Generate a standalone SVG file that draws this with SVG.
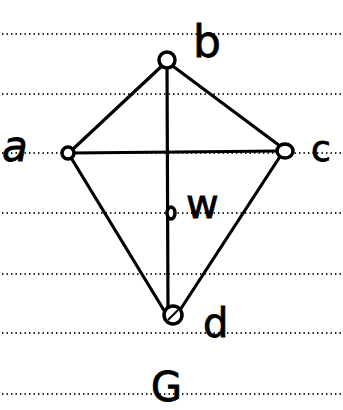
<svg xmlns="http://www.w3.org/2000/svg" width="343" height="410" viewBox="0 0 343 410">
<style>
.rule{stroke:#222;stroke-width:2.2;stroke-dasharray:1.4 3.1;fill:none}
.edge{stroke:#000;stroke-width:3.2;fill:none;stroke-linecap:round}
.node{fill:#fff;stroke:#000;stroke-width:3.5}
.lbl{font-family:"DejaVu Sans",sans-serif;fill:#000;stroke:#000;stroke-width:0.8}
</style>
<rect width="343" height="410" fill="#fff"/>
<g id="paper">
<line class="rule" x1="2" y1="34" x2="343" y2="34"/>
<line class="rule" x1="2" y1="94" x2="343" y2="94"/>
<line class="rule" x1="2" y1="153" x2="343" y2="153"/>
<line class="rule" x1="2" y1="213" x2="343" y2="213"/>
<line class="rule" x1="2" y1="274" x2="343" y2="274"/>
<line class="rule" x1="2" y1="333" x2="343" y2="333"/>
<line class="rule" x1="2" y1="394" x2="343" y2="394"/>
</g>
<g id="connectors">
<line class="edge" x1="164" y1="64" x2="72" y2="150"/>
<line class="edge" x1="170" y1="64" x2="280" y2="146"/>
<line class="edge" x1="167" y1="64" x2="168" y2="310"/>
<line class="edge" x1="72" y1="153" x2="280" y2="151"/>
<line class="edge" x1="70" y1="156" x2="165" y2="312"/>
<line class="edge" x1="281" y1="155" x2="180" y2="310"/>
</g>
<g id="node-b"><circle class="node" cx="167" cy="60" r="8"/><text class="lbl" x="193" y="57" font-size="44">b</text></g>
<g id="node-a"><circle class="node" cx="68" cy="153" r="6"/><text class="lbl" x="2" y="161" font-size="42" font-style="italic">a</text></g>
<g id="node-c"><ellipse class="node" cx="285" cy="151" rx="8" ry="7"/><text class="lbl" x="311" y="161" font-size="36">c</text></g>
<g id="node-w"><ellipse class="node" cx="171" cy="213" rx="4" ry="6" stroke-width="2.5"/><text class="lbl" x="186" y="218" font-size="40">w</text></g>
<g id="node-d"><ellipse class="node" cx="173" cy="315" rx="9" ry="9" stroke-width="5"/><line x1="168" y1="320" x2="178" y2="310" stroke="#000" stroke-width="2"/><text class="lbl" x="203" y="337" font-size="40">d</text></g>
<g id="label-G"><text class="lbl" x="151" y="401" font-size="40">G</text></g>
</svg>
